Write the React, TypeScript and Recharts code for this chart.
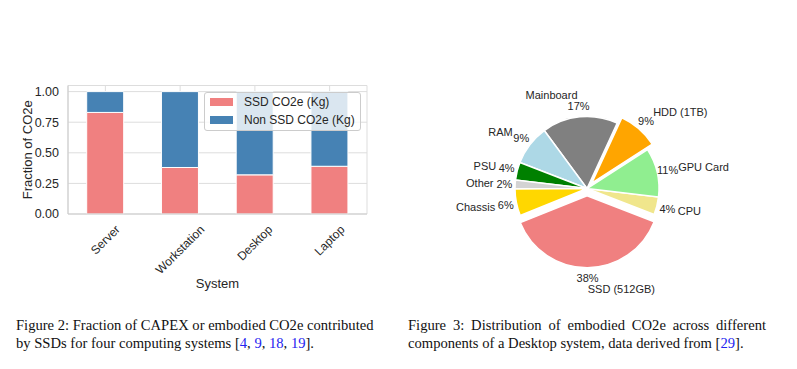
import { Bar, BarChart, CartesianGrid, Legend, Pie, PieChart, Sector, XAxis, YAxis } from 'recharts';
import type { FC } from 'react';

const systems = ['Server', 'Workstation', 'Desktop', 'Laptop'];
const ssdFraction = [0.83, 0.38, 0.32, 0.39];
const nonSsdFraction = [0.17, 0.62, 0.68, 0.61];
const yTicks = [0, 0.25, 0.5, 0.75, 1];

const barSeries = [
  { key: 'ssd', label: 'SSD CO2e (Kg)', color: '#f08080' },
  { key: 'nonSsd', label: 'Non SSD CO2e (Kg)', color: '#4682b4' },
];

const components = ['SSD (512GB)', 'CPU', 'GPU Card', 'HDD (1TB)', 'Mainboard', 'RAM', 'PSU', 'Other', 'Chassis'];
const componentShare = [38, 4, 11, 9, 17, 9, 4, 2, 6];
const componentColors = ['#f08080', '#f0e68c', '#90ee90', '#ffa500', '#808080', '#add8e6', '#008000', '#d3d3d3', '#ffd700'];
const explodedComponents = ['SSD (512GB)', 'HDD (1TB)'];

const barData = systems.map((name, i) => ({ name, ssd: ssdFraction[i], nonSsd: nonSsdFraction[i] }));
const pieData = components.map((name, i) => ({ name, value: componentShare[i], fill: componentColors[i] }));

const TEXT = '#262626';
const FRAME = '#cccccc';
const SANS = '"Liberation Sans", Arial, sans-serif';
const RAD = Math.PI / 180;
const PIE_R = 72;
const EXPLODE = 0.1 * PIE_R;

let canvas: HTMLCanvasElement | null = null;
const textWidth = (text: string, font: string) => {
  if (!canvas) canvas = document.createElement('canvas');
  const ctx = canvas.getContext('2d');
  if (!ctx) return text.length * 6.5;
  ctx.font = font;
  return ctx.measureText(text).width;
};

// matplotlib-style rotated label: bbox centred under the tick
const RotatedTick: FC<any> = ({ x, y, payload }) => {
  const w = textWidth(payload.value, `12px ${SANS}`);
  const half = ((w + 13.8) * Math.SQRT1_2) / 2;
  const cy = y + 8.5 + half;
  return (
    <text
      x={x}
      y={cy}
      textAnchor="middle"
      dominantBaseline="central"
      transform={`rotate(-45 ${x} ${cy})`}
      fontSize={12}
      fill={TEXT}
    >
      {payload.value}
    </text>
  );
};

const LegendBox: FC = () => (
  <div
    style={{
      border: `1px solid ${FRAME}`,
      borderRadius: 3,
      background: 'rgba(255,255,255,0.8)',
      padding: '0 0 1px 0',
      fontSize: 12,
      color: TEXT,
      fontFamily: SANS,
    }}
  >
    {barSeries.map((s) => (
      <div key={s.key} style={{ display: 'flex', alignItems: 'center', height: 18 }}>
        <span style={{ width: 23, height: 8, background: s.color, marginLeft: 5, marginRight: 11 }} />
        <span>{s.label}</span>
      </div>
    ))}
  </div>
);

const explodeShift = (name: string, midAngle: number) => {
  const off = explodedComponents.includes(name) ? EXPLODE : 0;
  return { dx: off * Math.cos(-midAngle * RAD), dy: off * Math.sin(-midAngle * RAD) };
};

const renderSlice = (props: any) => {
  const { dx, dy } = explodeShift(props.name, props.midAngle);
  return (
    <Sector
      cx={props.cx + dx}
      cy={props.cy + dy}
      innerRadius={props.innerRadius}
      outerRadius={props.outerRadius}
      startAngle={props.startAngle}
      endAngle={props.endAngle}
      fill={props.fill}
      stroke="#ffffff"
      strokeWidth={1.5}
    />
  );
};

const renderPieLabel = (props: any) => {
  const { cx, cy, midAngle, outerRadius, percent, name } = props;
  const { dx, dy } = explodeShift(name, midAngle);
  const cos = Math.cos(-midAngle * RAD);
  const sin = Math.sin(-midAngle * RAD);
  const ox = cx + dx;
  const oy = cy + dy;
  return (
    <g>
      <text
        x={ox + outerRadius * 1.3 * cos}
        y={oy + outerRadius * 1.3 * sin}
        textAnchor={cos > 0 ? 'start' : 'end'}
        dominantBaseline="central"
        fontSize={11}
        fill={TEXT}
      >
        {name}
      </text>
      <text
        x={ox + outerRadius * 1.15 * cos}
        y={oy + outerRadius * 1.15 * sin}
        textAnchor="middle"
        dominantBaseline="central"
        fontSize={11}
        fill={TEXT}
      >
        {`${Math.round(percent * 100)}%`}
      </text>
    </g>
  );
};

const cite = { color: '#2424f0' };
const captionStyle = {
  position: 'absolute' as const,
  top: 315.5,
  width: 357,
  fontFamily: '"Liberation Serif", "Times New Roman", serif',
  fontSize: 14.6,
  lineHeight: '18px',
  color: '#111',
};

export default function App() {
  return (
    <div style={{ position: 'absolute', left: 0, top: 0, width: 797, height: 369, background: '#fff', fontFamily: SANS }}>
      <div style={{ position: 'absolute', left: 0, top: 0 }}>
        <BarChart width={400} height={300} data={barData} margin={{ top: 85.5, right: 33, bottom: 0, left: 0 }} barCategoryGap="25%">
          <CartesianGrid stroke="#dddddd" strokeWidth={1} />
          <XAxis
            dataKey="name"
            height={86}
            tickLine={false}
            tickSize={0}
            tickMargin={0}
            axisLine={{ stroke: FRAME }}
            tick={<RotatedTick />}
            interval={0}
            label={{ value: 'System', position: 'insideBottom', offset: 12, fontSize: 13, fill: TEXT }}
          />
          <XAxis xAxisId="top" orientation="top" dataKey="name" height={0} tick={false} tickLine={false} axisLine={{ stroke: FRAME }} />
          <YAxis
            domain={[0, 1.05]}
            ticks={yTicks}
            width={68}
            tickLine={false}
            tickMargin={3}
            axisLine={{ stroke: FRAME }}
            tick={{ fill: TEXT, fontSize: 12.5 }}
            tickFormatter={(v: number) => v.toFixed(2)}
            label={{
              value: 'Fraction of CO2e',
              angle: -90,
              position: 'insideLeft',
              offset: 27,
              style: { textAnchor: 'middle', fontSize: 13, fill: TEXT },
            }}
          />
          <YAxis yAxisId="right" orientation="right" width={0} tick={false} tickLine={false} axisLine={{ stroke: FRAME }} />
          <Legend
            layout="vertical"
            align="center"
            verticalAlign="middle"
            content={<LegendBox />}
            wrapperStyle={{ position: 'absolute', left: 204, top: 92, width: 157, bottom: 'auto' }}
          />
          {barSeries.map((s) => (
            <Bar key={s.key} dataKey={s.key} stackId="a" fill={s.color} stroke="#ffffff" strokeWidth={1} isAnimationActive={false} />
          ))}
        </BarChart>
      </div>

      <div style={{ position: 'absolute', left: 400, top: 0 }}>
        <PieChart width={397} height={300}>
          <Pie
            data={pieData}
            dataKey="value"
            nameKey="name"
            cx={182}
            cy={183.5}
            outerRadius={PIE_R}
            startAngle={-158}
            endAngle={202}
            stroke="#ffffff"
            strokeWidth={1.5}
            labelLine={false}
            label={renderPieLabel}
            shape={renderSlice}
            isAnimationActive={false}
          />
        </PieChart>
      </div>

      <div style={{ ...captionStyle, left: 16 }}>
        <div style={{ textAlign: 'justify', textAlignLast: 'justify', whiteSpace: 'nowrap' }}>
          Figure 2: Fraction of CAPEX or embodied CO2e contributed
        </div>
        <div>
          by SSDs for four computing systems [<span style={cite}>4</span>, <span style={cite}>9</span>,{' '}
          <span style={cite}>18</span>, <span style={cite}>19</span>].
        </div>
      </div>
      <div style={{ ...captionStyle, left: 408, width: 358 }}>
        <div style={{ textAlign: 'justify', textAlignLast: 'justify', whiteSpace: 'nowrap' }}>
          Figure 3: Distribution of embodied CO2e across different
        </div>
        <div>
          components of a Desktop system, data derived from [<span style={cite}>29</span>].
        </div>
      </div>
    </div>
  );
}
